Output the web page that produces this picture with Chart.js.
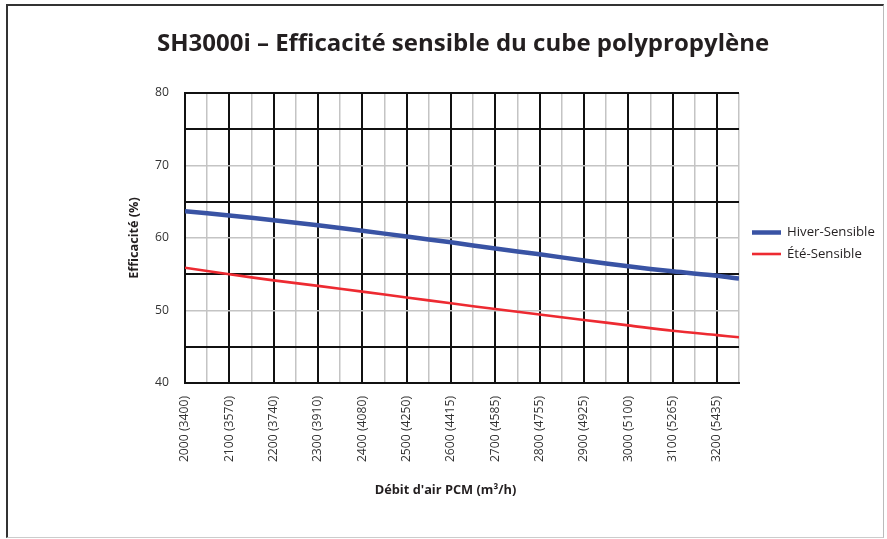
<!DOCTYPE html>
<html>
<head>
<meta charset="utf-8">
<script src="https://cdn.jsdelivr.net/npm/chart.js@4"></script>
<style>
  html, body { margin: 0; padding: 0; background: #fff; }
  #wrap { position: relative; width: 887px; height: 539px; }
  #frame { position: absolute; left: 6px; top: 4px; width: 878px; height: 534px;
           border-left: 2px solid #333; border-top: 2px solid #333; border-right: 1px solid #bbb; border-bottom: 1px solid #ccc; box-sizing: border-box; }
  canvas { position: absolute; left: 0; top: 0; }
</style>
</head>
<body>
<div id="wrap">
  <div id="frame"></div>
  <canvas id="c" width="887" height="539"></canvas>
</div>
<script>
// ---- data ----
const chartTitle = "SH3000i – Efficacité sensible du cube polypropylène";
const xTitle = "Débit d'air PCM (m³/h)";
const yTitle = "Efficacité (%)";
const flowCFM = [2000, 2100, 2200, 2300, 2400, 2500, 2600, 2700, 2800, 2900, 3000, 3100, 3200, 3250];
const hiverSensible = [63.7, 63.1, 62.45, 61.75, 61.0, 60.2, 59.4, 58.55, 57.75, 56.9, 56.1, 55.4, 54.8, 54.4];
const eteSensible = [55.9, 55.0, 54.15, 53.4, 52.6, 51.8, 51.0, 50.2, 49.45, 48.7, 47.95, 47.2, 46.6, 46.3];
const tickFlows = [2000, 2100, 2200, 2300, 2400, 2500, 2600, 2700, 2800, 2900, 3000, 3100, 3200];
const tickLabels = ["2000 (3400)", "2100 (3570)", "2200 (3740)", "2300 (3910)", "2400 (4080)", "2500 (4250)",
  "2600 (4415)", "2700 (4585)", "2800 (4755)", "2900 (4925)", "3000 (5100)", "3100 (5265)", "3200 (5435)"];
const seriesNames = ["Hiver-Sensible", "Été-Sensible"];
const seriesColors = ["#3953a4", "#ed2a31"];
const seriesWidths = [4.5, 2.6];

const FONT = "'Open Sans', Lato, sans-serif";
const TXT = "#231f20";

// pick font sizes so text widths match the reference
const mctx = document.createElement('canvas').getContext('2d');
function fit(text, weight, target) {
  mctx.font = weight + " 20px " + FONT;
  const w = mctx.measureText(text).width;
  return Math.round(20 * target / w * 10) / 10;
}
const titleSize = fit(chartTitle, 'bold', 611);
const axisTitleSize = fit(yTitle, 'bold', 82);
const xTitleSize = fit(xTitle, 'bold', 142);
const tickSize = fit(tickLabels[0], 'normal', 66);
const legendSize = fit(seriesNames[0], 'normal', 88);

const PAD_L = 40, PAD_R = 1;

const extrasPlugin = {
  id: 'extras',
  afterDraw(chart) {
    const ctx = chart.ctx;
    const a = chart.chartArea;
    ctx.save();
    // legend
    const x0 = a.right + 13, x1 = a.right + 42;
    const ys = [a.top + 139.5, a.top + 161];
    seriesNames.forEach((n, i) => {
      ctx.strokeStyle = seriesColors[i];
      ctx.lineWidth = seriesWidths[i];
      ctx.beginPath();
      ctx.moveTo(x0, ys[i]);
      ctx.lineTo(x1, ys[i]);
      ctx.stroke();
      ctx.fillStyle = TXT;
      ctx.font = legendSize + "px " + FONT;
      ctx.textBaseline = 'middle';
      ctx.textAlign = 'left';
      ctx.fillText(n, x1 + 6, ys[i]);
    });
    // x axis title, centred on the figure
    ctx.font = "bold " + xTitleSize + "px " + FONT;
    ctx.textAlign = 'center';
    ctx.textBaseline = 'middle';
    ctx.fillText(xTitle, chart.width / 2 + 2, a.bottom + 107);
    ctx.restore();
  }
};

new Chart(document.getElementById('c'), {
  type: 'line',
  data: {
    datasets: seriesNames.map((n, i) => ({
      label: n,
      data: flowCFM.map((x, j) => ({ x: x, y: (i === 0 ? hiverSensible : eteSensible)[j] })),
      borderColor: seriesColors[i],
      borderWidth: seriesWidths[i],
      pointRadius: 0,
      tension: 0.3,
      fill: false
    }))
  },
  options: {
    responsive: false,
    animation: false,
    layout: { padding: { left: PAD_L, right: PAD_R, top: 0, bottom: 40 } },
    plugins: {
      legend: { display: false },
      tooltip: { enabled: false },
      title: {
        display: true,
        text: chartTitle,
        fullSize: true,
        color: TXT,
        font: { family: FONT, size: titleSize, weight: 'bold', lineHeight: 1.2 },
        padding: { top: 44 - titleSize * 0.6, bottom: 49 - titleSize * 0.6 }
      }
    },
    scales: {
      x: {
        type: 'linear',
        min: 2000, max: 3250,
        afterFit(s) { s.height = 116; },
        afterBuildTicks(s) {
          const t = [];
          for (let v = 2000; v <= 3250; v += 50) t.push({ value: v });
          s.ticks = t;
        },
        ticks: {
          autoSkip: false,
          minRotation: 90, maxRotation: 90,
          padding: 13,
          color: "#333",
          font: { family: FONT, size: tickSize },
          callback(v) { const k = tickFlows.indexOf(v); return k >= 0 ? tickLabels[k] : ''; }
        },
        grid: {
          drawTicks: false,
          color(c) { return (c.tick && c.tick.value % 100 === 0) ? '#111' : '#c4c4c4'; },
          lineWidth(c) { return (c.tick && c.tick.value % 100 === 0) ? 2 : 1.5; }
        },
        border: { display: true, color: '#111', width: 2 },
        title: { display: false, text: xTitle }
      },
      y: {
        min: 40, max: 80,
        afterFit(s) { s.width = 185 - PAD_L; },
        afterBuildTicks(s) {
          const t = [];
          for (let v = 40; v <= 80; v += 5) t.push({ value: v });
          s.ticks = t;
        },
        ticks: {
          padding: 16,
          color: "#333",
          font: { family: FONT, size: tickSize },
          callback(v) { return v % 10 === 0 ? String(v) : ''; }
        },
        grid: {
          drawTicks: false,
          color(c) {
            const v = c.tick ? c.tick.value : 0;
            return (v % 10 === 5 || v === 40 || v === 80) ? '#111' : '#c4c4c4';
          },
          lineWidth(c) {
            const v = c.tick ? c.tick.value : 0;
            return (v % 10 === 5 || v === 40 || v === 80) ? 2 : 1.5;
          }
        },
        border: { display: true, color: '#111', width: 2 },
        title: { display: true, text: yTitle, color: TXT, font: { family: FONT, size: axisTitleSize, weight: 'bold', lineHeight: 1.2 }, padding: { top: 134 - PAD_L - axisTitleSize * 0.6, bottom: 0 } }
      },
      legendSpace: {
        type: 'linear',
        position: 'right',
        display: true,
        afterFit(s) { s.width = 887 - PAD_R - 739; },
        grid: { display: false, drawTicks: false },
        border: { display: false },
        ticks: { display: false }
      }
    }
  },
  plugins: [extrasPlugin]
});
</script>
</body>
</html>
